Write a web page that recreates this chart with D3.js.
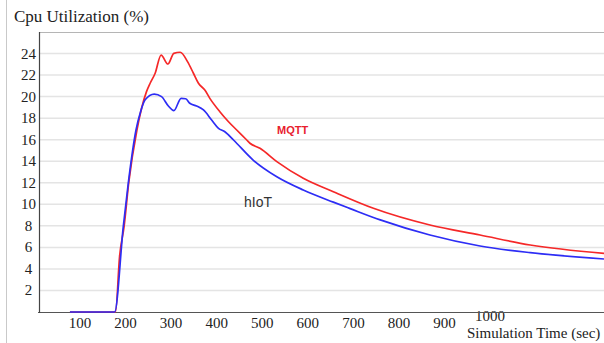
<!DOCTYPE html>
<html>
<head>
<meta charset="utf-8">
<script src="https://cdn.jsdelivr.net/npm/d3@7"></script>
<style>
  body { margin: 0; background: #fff; }
  svg { display: block; }
</style>
</head>
<body>
<div id="chart"></div>
<script>
// values
const timeHiot = [78, 176, 195, 206, 223, 233, 243, 263, 279, 294, 306, 322, 332, 341, 356, 371, 389, 404, 418, 437, 480, 532, 590, 656, 693, 759, 868, 978, 1088, 1250];
const cpuHiot  = [0, 0, 7.9, 11.95, 16.9, 18.6, 19.7, 20.24, 20.0, 19.13, 18.7, 19.84, 19.8, 19.38, 19.13, 18.76, 17.83, 17.06, 16.74, 15.97, 14.11, 12.56, 11.33, 10.2, 9.6, 8.55, 7.15, 6.13, 5.51, 4.92];

const timeMqtt = [78, 178, 187, 197, 207, 225, 246, 254, 265, 278, 293, 306, 320, 336, 349, 360, 374, 385, 407, 426, 444, 466, 473, 495, 532, 590, 656, 744, 868, 978, 1088, 1250];
const cpuMqtt  = [0, 0, 5.2, 8.0, 12.0, 16.9, 20.46, 21.24, 22.17, 23.86, 23.03, 24.02, 24.12, 23.25, 22.17, 21.24, 20.61, 19.84, 18.6, 17.67, 16.9, 15.97, 15.67, 15.2, 13.96, 12.42, 11.17, 9.63, 8.08, 7.15, 6.22, 5.45];

const yTicks = [2, 4, 6, 8, 10, 12, 14, 16, 18, 20, 22, 24];
const xTicks = [100, 200, 300, 400, 500, 600, 700, 800, 900, 1000];

const W = 604, H = 343;
const plot = {left: 39, top: 32, right: 604, bottom: 312};

const svg = d3.select("#chart").append("svg")
    .attr("width", W)
    .attr("height", H);

const x = d3.scaleLinear().domain([0, 1250]).range([34.4, 604]);
const y = d3.scaleLinear().domain([0, 26]).range([plot.bottom, plot.top]);

// frame line on the left edge of the picture
svg.append("line")
    .attr("x1", 6.5).attr("x2", 6.5).attr("y1", 0).attr("y2", H)
    .attr("stroke", "#c9c9c9").attr("stroke-width", 1);

// title
svg.append("text")
    .attr("x", 14).attr("y", 22)
    .attr("font-family", "Liberation Serif, serif")
    .attr("font-size", 17)
    .attr("fill", "#222")
    .text("Cpu Utilization (%)");

// gridlines
svg.append("g").selectAll("line")
    .data(yTicks)
    .join("line")
    .attr("x1", plot.left).attr("x2", plot.right)
    .attr("y1", d => y(d)).attr("y2", d => y(d))
    .attr("stroke", "#e4e4e4").attr("stroke-width", 1.5);

// top border
svg.append("line")
    .attr("x1", plot.left).attr("x2", plot.right)
    .attr("y1", plot.top + 0.5).attr("y2", plot.top + 0.5)
    .attr("stroke", "#b5b5b5");

// y tick labels
svg.append("g").selectAll("text")
    .data(yTicks)
    .join("text")
    .attr("x", 28.5)
    .attr("y", d => y(d) + 5)
    .attr("text-anchor", "middle")
    .attr("font-family", "Liberation Serif, serif")
    .attr("font-size", 15)
    .attr("fill", "#222")
    .text(d => d);

// x tick labels (1000 sits a bit higher, like the original)
svg.append("g").selectAll("text")
    .data(xTicks)
    .join("text")
    .attr("x", d => x(d))
    .attr("y", d => d === 1000 ? 321 : 328)
    .attr("text-anchor", "middle")
    .attr("font-family", "Liberation Serif, serif")
    .attr("font-size", 15)
    .attr("fill", "#222")
    .text(d => d);

svg.append("text")
    .attr("x", 467).attr("y", 338)
    .attr("font-family", "Liberation Serif, serif")
    .attr("font-size", 15)
    .attr("fill", "#222")
    .text("Simulation Time (sec)");

// axes lines
svg.append("line")
    .attr("x1", plot.left - 1).attr("x2", plot.right)
    .attr("y1", plot.bottom + 0.5).attr("y2", plot.bottom + 0.5)
    .attr("stroke", "#555").attr("stroke-width", 1.2);
svg.append("line")
    .attr("x1", plot.left + 0.5).attr("x2", plot.left + 0.5)
    .attr("y1", plot.top).attr("y2", plot.bottom + 1)
    .attr("stroke", "#444").attr("stroke-width", 1.2);

const line = d3.line()
    .curve(d3.curveMonotoneX)
    .x(d => x(d[0]))
    .y(d => y(d[1]));

svg.append("path")
    .datum(d3.zip(timeMqtt, cpuMqtt))
    .attr("fill", "none")
    .attr("stroke", "#f52828")
    .attr("stroke-width", 1.7)
    .attr("stroke-linejoin", "round")
    .attr("d", line);

svg.append("path")
    .datum(d3.zip(timeHiot, cpuHiot))
    .attr("fill", "none")
    .attr("stroke", "#2d2df5")
    .attr("stroke-width", 1.7)
    .attr("stroke-linejoin", "round")
    .attr("d", line);

// series labels
svg.append("text")
    .attr("x", 277).attr("y", 134)
    .attr("font-family", "Liberation Sans, Arial, sans-serif")
    .attr("font-size", 11)
    .attr("font-weight", "bold")
    .attr("fill", "#e8202e")
    .text("MQTT");

svg.append("text")
    .attr("x", 244).attr("y", 207)
    .attr("font-family", "Liberation Sans, Arial, sans-serif")
    .attr("font-size", 14)
    .attr("fill", "#333")
    .text("hIoT");
</script>
</body>
</html>
